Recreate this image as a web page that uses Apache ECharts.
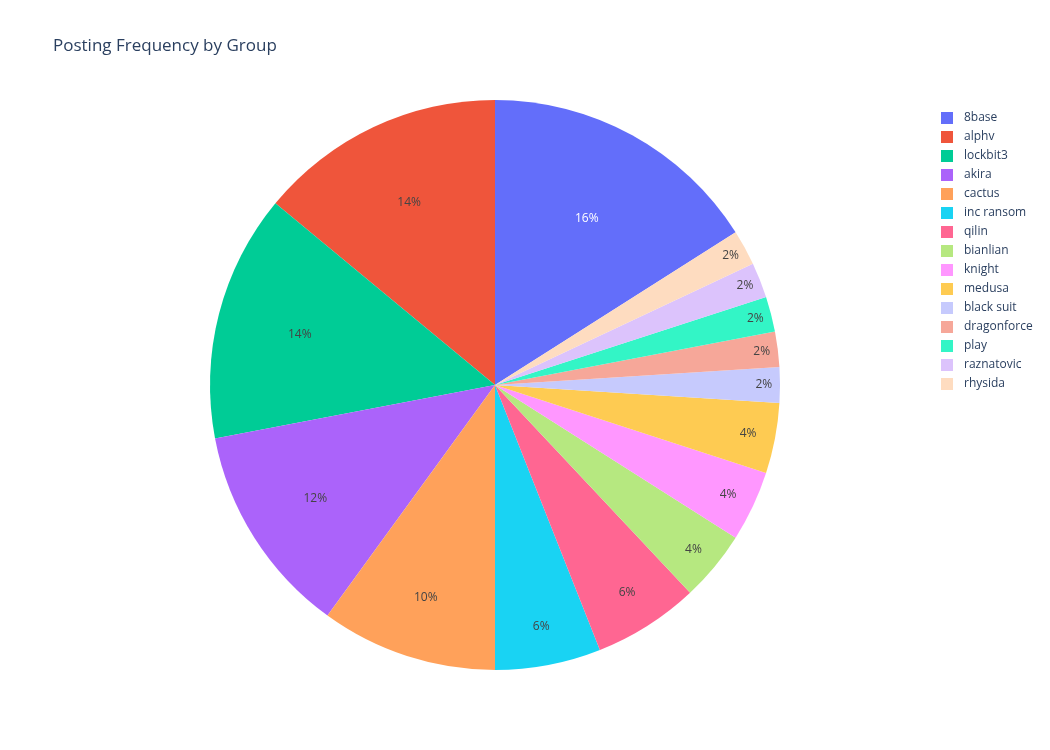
<!DOCTYPE html>
<html><head><meta charset="utf-8">
<script src="https://cdn.jsdelivr.net/npm/echarts@6/dist/echarts.min.js"></script>
<style>body{margin:0}#c{width:1050px;height:750px}</style></head>
<body><div id="c"></div>
<script>
var groups = ['8base','alphv','lockbit3','akira','cactus','inc ransom','qilin','bianlian','knight','medusa','black suit','dragonforce','play','raznatovic','rhysida'];
var counts = [8,7,7,6,5,3,3,2,2,2,1,1,1,1,1];
var colors = ['#636efa','#ef553b','#00cc96','#ab63fa','#ffa15a','#19d3f3','#ff6692','#b6e880','#ff97ff','#fecb52','#c6cafd','#f6a799','#33f5c6','#dcc3fc','#fedcc0'];

var total = counts.reduce(function(a,b){return a+b;},0);
var cx = 495, cy = 385, R = 285;
var myChart = echarts.init(document.getElementById('c'));
var option = {
    title: { text: 'Posting Frequency by Group', left: 48, top: 33,
        textStyle: { fontFamily: 'Open Sans', fontSize: 17, fontWeight: 'normal', color: '#2a3f5f' } },
    legend: {
        orient: 'vertical', left: 936, top: 107, itemGap: 7,
        itemWidth: 12, itemHeight: 12, icon: 'rect',
        textStyle: { fontFamily: 'Open Sans', fontSize: 12, color: '#2a3f5f', padding: [0,0,0,6] },
        data: groups
    },
    series: [{
        type: 'pie', center: [cx, cy], radius: [0, R],
        startAngle: 90 - 360 * counts[0] / total, clockwise: false, avoidLabelOverlap: false,
        itemStyle: { borderWidth: 0 },
        label: { position: 'inside', fontFamily: 'Open Sans', fontSize: 12, color: '#444',
            formatter: function(p){ return Math.round(p.percent) + '%'; } },
        labelLayout: function(p) {
            var r = p.labelRect;
            var lx = r.x + r.width/2, ly = r.y + r.height/2;
            var pct = counts[p.dataIndex] / total * 100;
            var f = (280 - 5.6*pct) / Math.hypot(lx-cx, ly-cy);
            return { x: cx + (lx-cx)*f, y: cy + (ly-cy)*f, align: 'center', verticalAlign: 'middle' };
        },
        labelLine: { show: false },
        emphasis: { disabled: true },
        data: groups.map(function(g,i){
            return { name: g, value: counts[i], itemStyle: { color: colors[i] },
                label: { color: i === 0 ? '#fff' : '#444' } };
        })
    }]
};
myChart.setOption(option);
</script></body></html>
